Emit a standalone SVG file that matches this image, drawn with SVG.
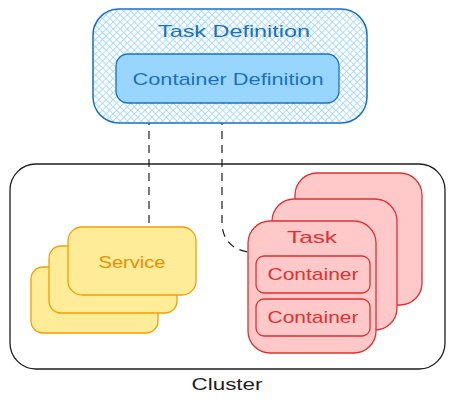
<svg xmlns="http://www.w3.org/2000/svg" width="455" height="408" viewBox="0 0 455 408">
<defs>
<pattern id="hatch" width="5" height="5" patternUnits="userSpaceOnUse" patternTransform="rotate(45)">
<rect width="5" height="5" fill="#ffffff"/>
<line x1="0" y1="0" x2="0" y2="5" stroke="#a5d8ff" stroke-width="1.8"/>
<line x1="0" y1="0" x2="5" y2="0" stroke="#a5d8ff" stroke-width="1.8"/>
</pattern>
</defs>
<style>
text{font-family:"Liberation Sans","DejaVu Sans",sans-serif;font-size:17px;text-anchor:middle}
.blue{fill:#1971c2}
.red{fill:#e03131}
.orange{fill:#f08c00}
.svc{fill:#ffec99;stroke:#f59f00;stroke-width:1.3}
.tsk{fill:#ffc9c9;stroke:#e03131;stroke-width:1.3}
.con{fill:none;stroke:#1e1e1e;stroke-width:1.2;stroke-dasharray:8 6}
</style>
<rect width="455" height="408" fill="#ffffff"/>

<g id="cluster">
<rect x="10" y="164" width="435" height="205" rx="26" fill="none" stroke="#1e1e1e" stroke-width="1.3"/>
<text x="227" y="390" fill="#1e1e1e" textLength="71" lengthAdjust="spacingAndGlyphs">Cluster</text>
</g>

<g id="connectors">
<path class="con" d="M149 103 L149 227"/>
<path class="con" d="M222 103 L222 225 Q224 248 248 252"/>
</g>

<g id="task-definition">
<rect x="93" y="9" width="274" height="114" rx="26" fill="url(#hatch)" stroke="#1971c2" stroke-width="1.5"/>
<text class="blue" x="234" y="37" textLength="152" lengthAdjust="spacingAndGlyphs">Task Definition</text>
</g>

<g id="container-definition">
<rect x="116" y="54" width="223" height="49" rx="12" fill="#99d6ff" stroke="#1971c2" stroke-width="1.3"/>
<text class="blue" x="228" y="85" textLength="191" lengthAdjust="spacingAndGlyphs">Container Definition</text>
</g>

<g id="service">
<rect class="svc" x="31" y="267" width="127" height="66" rx="12"/>
<rect class="svc" x="49" y="246" width="128" height="67" rx="12"/>
<rect class="svc" x="68" y="227" width="128" height="68" rx="14"/>
<text class="orange" x="132" y="268" textLength="67" lengthAdjust="spacingAndGlyphs">Service</text>
</g>

<g id="task">
<rect class="tsk" x="295" y="173" width="127" height="132" rx="22"/>
<rect class="tsk" x="272" y="199" width="125" height="131" rx="22"/>
<rect class="tsk" x="248" y="221" width="128" height="132" rx="22"/>
<text class="red" x="312" y="243" textLength="50" lengthAdjust="spacingAndGlyphs">Task</text>
</g>

<g id="container-1">
<rect x="256" y="256" width="114" height="37" rx="8" fill="none" stroke="#e03131" stroke-width="1.3"/>
<text class="red" x="313" y="280" textLength="91" lengthAdjust="spacingAndGlyphs">Container</text>
</g>

<g id="container-2">
<rect x="256" y="299" width="114" height="37" rx="8" fill="none" stroke="#e03131" stroke-width="1.3"/>
<text class="red" x="313" y="323" textLength="91" lengthAdjust="spacingAndGlyphs">Container</text>
</g>
</svg>
